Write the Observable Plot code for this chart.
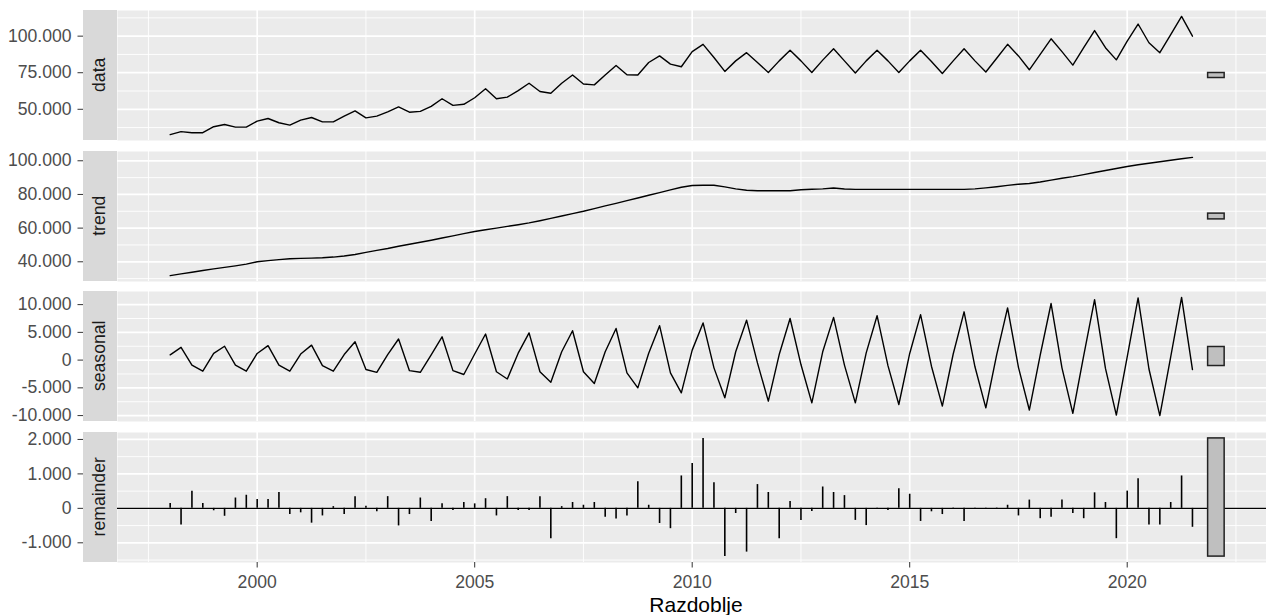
<!DOCTYPE html>
<html><head><meta charset="utf-8">
<script src="https://cdn.jsdelivr.net/npm/d3@7"></script>
<script src="https://cdn.jsdelivr.net/npm/@observablehq/plot@0.6"></script>
<style>
html,body{margin:0;padding:0;background:#fff;}
#chart{position:relative;width:1266px;height:615px;overflow:hidden;font-family:"Liberation Sans",Arial,sans-serif;background:#fff;}
.panel{position:absolute;left:0;}
.strip{position:absolute;left:83px;width:34px;background:#D9D9D9;display:flex;align-items:center;justify-content:center;overflow:visible;}
.strip span{transform:rotate(-90deg);white-space:nowrap;font-size:17.6px;color:#1A1A1A;line-height:1;}
.xtitle{position:absolute;top:593.5px;left:596px;width:200px;text-align:center;font-size:21px;color:#000;line-height:1;}
</style></head><body><div id="chart"></div>
<script>
// ---- data (quarterly, first quarter = 1998 Q1) ----
const startYear = 1998;
const panelNames = ["data", "trend", "seasonal", "remainder"];
const dataVals = [
  32700, 34700, 34000, 34000,
  38100, 39600, 37800, 37800,
  41900, 43700, 40800, 39200,
  42600, 44400, 41400, 41400,
  45300, 48900, 44100, 45300,
  48200, 51600, 48000, 48600,
  52000, 57200, 52700, 53400,
  57900, 64000, 57200, 58300,
  62800, 67800, 62200, 61000,
  67800, 73400, 67300, 66700,
  73400, 80000, 73600, 73400,
  82000, 86500, 80900, 79100,
  89400, 94400, 85400, 75900,
  83100, 88700, 82000, 75200,
  83100, 90300, 83100, 75200,
  83600, 91400, 83100, 74800,
  83100, 90300, 83100, 75200,
  83100, 90300, 82700, 74500,
  83100, 91400, 83100, 75500,
  84900, 94400, 86500, 77000,
  87600, 98200, 89400, 80200,
  92100, 103800, 92100, 83800,
  96600, 108300, 95500, 88700,
  101100, 113500, 100000
];
const trendVals = [
  31800, 32800, 33800, 34800,
  35800, 36700, 37600, 38600,
  40000, 40700, 41300, 41800,
  42000, 42200, 42400, 42800,
  43400, 44300, 45600, 46800,
  47900, 49200, 50400, 51600,
  52800, 54100, 55400, 56700,
  58000, 59000, 60000, 61000,
  62000, 63100, 64400, 65800,
  67200, 68600, 70000, 71600,
  73200, 74700, 76300, 77900,
  79500, 81100, 82700, 84300,
  85300, 85500, 85500, 84500,
  83300, 82500, 82200, 82200,
  82200, 82200, 82800, 83100,
  83300, 83800, 83200, 83000,
  83000, 83000, 83000, 83000,
  83000, 83000, 83000, 83000,
  83000, 83000, 83300, 83900,
  84600, 85400, 86100, 86500,
  87400, 88500, 89600, 90600,
  91800, 93000, 94200, 95400,
  96600, 97600, 98500, 99400,
  100300, 101200, 102000
];
const seasonalVals = [
  950, 2300, -900, -2000,
  1200, 2500, -900, -2000,
  1200, 2600, -900, -2000,
  1100, 2700, -1000, -2000,
  1000, 3300, -1700, -2200,
  1000, 3800, -1900, -2200,
  950, 4200, -1900, -2600,
  1100, 4700, -2100, -3400,
  1250, 4900, -2100, -4000,
  1500, 5300, -2100, -4200,
  1500, 5700, -2300, -5000,
  1250, 6200, -2300, -5900,
  1800, 6700, -1400, -6800,
  1500, 7200, -500, -7400,
  1000, 7500, -800, -7700,
  1500, 7700, -900, -7700,
  1300, 8000, -1000, -8000,
  1200, 8200, -1100, -8300,
  1100, 8700, -1200, -8600,
  1000, 9400, -1300, -9000,
  900, 10200, -1400, -9600,
  800, 10900, -1500, -9900,
  600, 11200, -1600, -10000,
  600, 11300, -1700
];
const remainderVals = [
  140, -480, 500, 140,
  -70, -230, 300, 380,
  260, 260, 460, -180,
  -130, -430, -220, 50,
  -180, 340, 60, -100,
  340, -510, -180, 300,
  -380, 130, -60, 170,
  130, 280, -220, 340,
  -60, -60, 340, -880,
  50, 170, 90, 170,
  -260, -310, -220, 770,
  90, -440, -590, 940,
  1300, 2030, 740, -1400,
  -150, -1270, 690, 460,
  -880, 200, -350, -90,
  620, 460, 370, -350,
  -500, 10, -60, 570,
  410, -380, -100, -180,
  10, -380, 10, 10,
  10, 90, -220, 240,
  -300, -260, 240, -150,
  -300, 450, 170, -880,
  500, 860, -480, -480,
  170, 940, -550
];
const seriesByName = {data: dataVals, trend: trendVals, seasonal: seasonalVals, remainder: remainderVals};

// tick labels
const xMajorTicks = [2000, 2005, 2010, 2015, 2020];
const dataTicks = [50000, 75000, 100000];
const trendTicks = [40000, 60000, 80000, 100000];
const seasonalTicks = [-10000, -5000, 0, 5000, 10000];
const remainderTicks = [-1000, 0, 1000, 2000];
const ticksByName = {data: dataTicks, trend: trendTicks, seasonal: seasonalTicks, remainder: remainderTicks};
const xTitle = "Razdoblje";

// ---- layout ----
const W = 1266;
const PANEL_H = 130;
const PANEL_TOPS = [10, 150.6, 291.2, 431.8];
const X_DOMAIN = [1996.789, 2023.202];
const BAR_X_OFFSET = [0.36, 0.74];

const rows = dataVals.map((d, i) => ({
  t: startYear + i / 4,
  data: d, trend: trendVals[i], seasonal: seasonalVals[i], remainder: remainderVals[i]
}));
const lastT = rows[rows.length - 1].t;

const xMinorTicks = [];
for (let v = xMajorTicks[0] - 2.5; v <= xMajorTicks[xMajorTicks.length - 1] + 2.5; v += 5) xMinorTicks.push(v);

const fmt = d3.formatLocale({decimal: ",", thousands: ".", grouping: [3], currency: ["", ""], minus: "-"}).format(",");

const halfBar = d3.min(panelNames, n => { const e = d3.extent(seriesByName[n]); return (e[1] - e[0]) / 2; });

const chart = document.getElementById("chart");
const FONT = "'Liberation Sans', Arial, sans-serif";

panelNames.forEach((name, pi) => {
  const vals = seriesByName[name];
  const ext = d3.extent(vals);
  const mid = (ext[0] + ext[1]) / 2;
  const bar = {x1: lastT + BAR_X_OFFSET[0], x2: lastT + BAR_X_OFFSET[1], y1: mid - halfBar, y2: mid + halfBar};
  const lo = Math.min(ext[0], bar.y1), hi = Math.max(ext[1], bar.y2);
  const pad = (hi - lo) * 0.05;
  const yDomain = [lo - pad, hi + pad];
  const major = ticksByName[name];
  const step = major[1] - major[0];
  const minor = [];
  for (let v = major[0] - step * 1.5; v <= major[major.length - 1] + step * 1.5; v += step) {
    if (v >= yDomain[0] && v <= yDomain[1]) minor.push(v);
  }
  const isLast = pi === panelNames.length - 1;
  const marks = [
    Plot.frame({fill: "#EBEBEB", stroke: "none"}),
    Plot.gridX(xMinorTicks, {stroke: "#fff", strokeOpacity: 1, strokeWidth: 0.9}),
    Plot.gridY(minor, {stroke: "#fff", strokeOpacity: 1, strokeWidth: 0.9}),
    Plot.gridX(xMajorTicks, {stroke: "#fff", strokeOpacity: 1, strokeWidth: 1.7}),
    Plot.gridY(major, {stroke: "#fff", strokeOpacity: 1, strokeWidth: 1.7})
  ];
  if (name === "remainder") {
    marks.push(Plot.ruleY([0], {stroke: "#000", strokeWidth: 1.4}));
    marks.push(Plot.ruleX(rows, {x: "t", y1: 0, y2: "remainder", stroke: "#000", strokeWidth: 1.6}));
  } else {
    marks.push(Plot.line(rows, {x: "t", y: name, stroke: "#000", strokeWidth: 1.4}));
  }
  marks.push(Plot.rect([bar], {x1: "x1", x2: "x2", y1: "y1", y2: "y2", fill: "#BFBFBF", stroke: "#222", strokeWidth: 1.5}));
  marks.push(Plot.axisY(major, {tickFormat: fmt, tickSize: 5.5, tickPadding: 6.5, dx: -34, stroke: "#333", fill: "#4D4D4D", fontSize: 17.6, label: null}));
  if (isLast) {
    marks.push(Plot.axisX(xMajorTicks, {tickFormat: d => String(d), tickSize: 5.5, tickPadding: 7.5, stroke: "#333", fill: "#4D4D4D", fontSize: 17.6, label: null}));
  }
  const svg = Plot.plot({
    width: W,
    height: PANEL_H + (isLast ? 45 : 0),
    marginLeft: 117, marginRight: 0, marginTop: 0, marginBottom: isLast ? 45 : 0,
    x: isLast ? {domain: X_DOMAIN} : {domain: X_DOMAIN, axis: null},
    y: {domain: yDomain},
    style: {fontFamily: FONT, fontSize: "17.6px", background: "transparent", overflow: "visible"},
    marks
  });
  svg.classList.add("panel");
  svg.style.top = PANEL_TOPS[pi] + "px";
  chart.appendChild(svg);

  const strip = document.createElement("div");
  strip.className = "strip";
  strip.style.top = PANEL_TOPS[pi] + "px";
  strip.style.height = PANEL_H + "px";
  const sp = document.createElement("span");
  sp.textContent = name;
  strip.appendChild(sp);
  chart.appendChild(strip);
});

const t = document.createElement("div");
t.className = "xtitle";
t.textContent = xTitle;
chart.appendChild(t);
</script></body></html>
